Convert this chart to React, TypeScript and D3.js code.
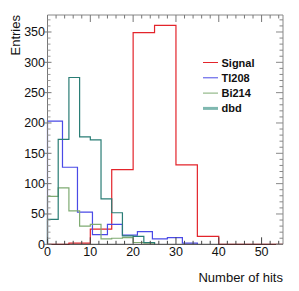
import React from "react";
import * as d3 from "d3";

const signalValues = [0, 2, 25, 123, 349, 361, 131, 13, 0, 0, 0];
const signalWidth = 5;
const tl208Values = [203, 127, 53, 16, 33, 15, 21, 9, 11, 2];
const tl208Width = 3.5;
const bi214Values = [79, 93, 55, 30, 33, 9, 10, 11, 3, 2];
const bi214Width = 2.5;
const dbdValues = [41, 173, 275, 177, 172, 75, 52, 14, 13, 3];
const dbdWidth = 2.5;

const xTicks = [0, 10, 20, 30, 40, 50];
const yTicks = [0, 50, 100, 150, 200, 250, 300, 350];
const legendNames = ["Signal", "Tl208", "Bi214", "dbd"];

const W = 299, H = 291;
const x = d3.scaleLinear().domain([0, 55]).range([47.5, 283]);
const y = d3.scaleLinear().domain([0, 378]).range([244.3, 15]);

function stepPath(values: number[], width: number) {
  const pts: [number, number][] = [[0, 0]];
  values.forEach((v, i) => {
    pts.push([i * width, v]);
    pts.push([(i + 1) * width, v]);
  });
  pts.push([values.length * width, 0]);
  const line = d3.line<[number, number]>().x((d) => x(d[0])).y((d) => y(d[1]));
  return line(pts) as string;
}

const series = [
  { name: "Signal", values: signalValues, width: signalWidth, color: "#e3242b" },
  { name: "Tl208", values: tl208Values, width: tl208Width, color: "#4a4ae6" },
  { name: "Bi214", values: bi214Values, width: bi214Width, color: "#7fab72" },
  { name: "dbd", values: dbdValues, width: dbdWidth, color: "#2a7d75" },
];

export default function App() {
  const x0 = x.range()[0], x1 = x.range()[1];
  const y0 = y.range()[0], y1 = y.range()[1];
  const xMinor = d3.range(0, 55.01, 2);
  const yMinor = d3.range(0, 378, 10);
  const font = "'Liberation Sans', Arial, Helvetica, sans-serif";
  const legendColors = ["#e3242b", "#4a4ae6", "#7fab72", "#7fb8b0"];
  return (
    <svg width={W} height={H} style={{ position: "absolute", left: 0, top: 0, background: "#fff" }} fontFamily={font}>
      <rect x={0} y={0} width={W} height={H} fill="#fff" />
      {/* histograms */}
      {series.map((s) => (
        <path key={s.name} d={stepPath(s.values, s.width)} fill="none" stroke={s.color} strokeWidth={1.2} />
      ))}
      {/* frame */}
      <line x1={x0} x2={x1} y1={y1} y2={y1} stroke="#888" strokeWidth={1} />
      <line x1={x1} x2={x1} y1={y1} y2={y0} stroke="#888" strokeWidth={1} />
      <line x1={x0} x2={x0} y1={y1} y2={y0} stroke="#777" strokeWidth={1} />
      <line x1={x0} x2={x1} y1={y0} y2={y0} stroke="#333" strokeWidth={1} />
      {/* x ticks bottom and top */}
      {xMinor.map((t) => {
        const major = t % 10 === 0;
        const len = major ? 7 : 3.5;
        return (
          <g key={"xt" + t}>
            <line x1={x(t)} x2={x(t)} y1={y0} y2={y0 - len} stroke="#444" strokeWidth={1} />
            <line x1={x(t)} x2={x(t)} y1={y1} y2={y1 + len} stroke="#777" strokeWidth={1} />
          </g>
        );
      })}
      {/* y ticks left and right */}
      {yMinor.map((t) => {
        const major = t % 50 === 0;
        return (
          <g key={"yt" + t}>
            {major ? (
              <line x1={x0 - 3} x2={x0 + 4} y1={y(t)} y2={y(t)} stroke="#777" strokeWidth={1} />
            ) : (
              <line x1={x0} x2={x0 + 3} y1={y(t)} y2={y(t)} stroke="#999" strokeWidth={1} />
            )}
            <line x1={x1} x2={x1 - (major ? 7 : 3.5)} y1={y(t)} y2={y(t)} stroke="#888" strokeWidth={1} />
          </g>
        );
      })}
      {/* tick labels */}
      {xTicks.map((t) => (
        <text key={"xl" + t} x={x(t)} y={255.5} textAnchor="middle" fontSize={12.5} fill="#111">
          {t}
        </text>
      ))}
      {yTicks.map((t) => (
        <text key={"yl" + t} x={45} y={y(t) + 4.5} textAnchor="end" fontSize={12.5} fill="#111">
          {t}
        </text>
      ))}
      {/* axis titles */}
      <text x={283} y={282} textAnchor="end" fontSize={13} fill="#111">
        Number of hits
      </text>
      <text transform={`translate(20,15) rotate(-90)`} textAnchor="end" fontSize={13} fill="#111">
        Entries
      </text>
      {/* legend */}
      {legendNames.map((n, i) => {
        const cy = 62.5 + i * 15.3;
        return (
          <g key={n}>
            <line x1={203} x2={218} y1={cy} y2={cy} stroke={legendColors[i]} strokeWidth={i === 3 ? 3 : 1} />
            <text x={221.5} y={cy + 4} fontSize={11} fontWeight="bold" fill="#111">
              {n}
            </text>
          </g>
        );
      })}
    </svg>
  );
}
